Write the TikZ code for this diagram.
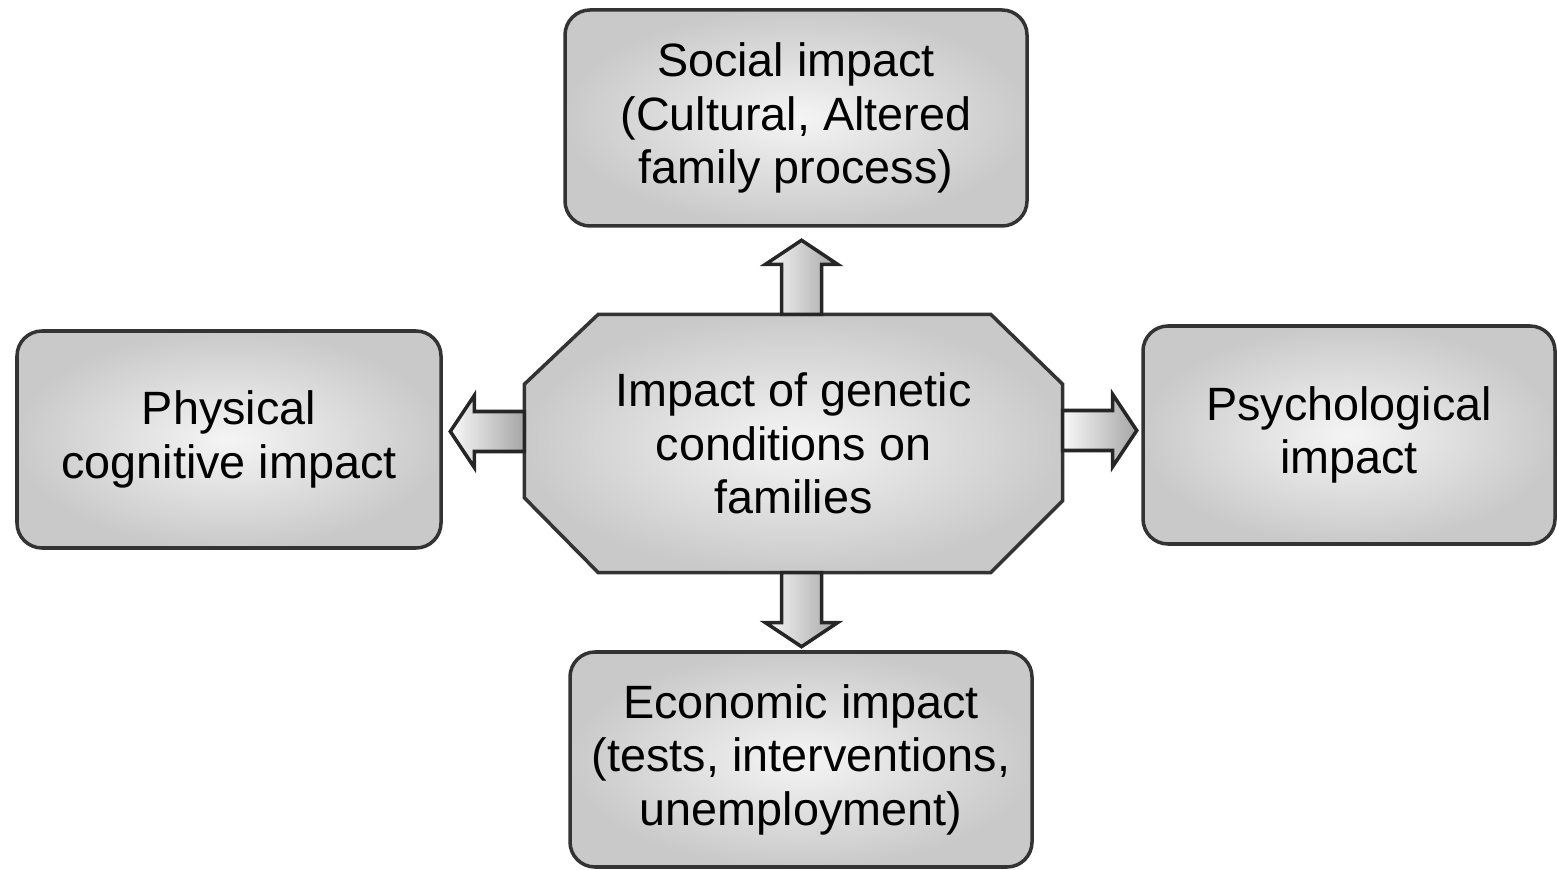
\documentclass[tikz,border=0pt]{standalone}
\usepackage{fontspec}
\setmainfont{Liberation Sans}
\usetikzlibrary{calc,backgrounds}

% block arrow leaving an anchor: #1 anchor, #2 direction, #3 normal
\newcommand{\fatarrow}[3]{%
  \draw[fatarrow] ($(#1)+0.2*(#3)$) -- ($(#1)+0.2*(#3)+0.5*(#2)$)
    -- ($(#1)+0.36*(#3)+0.5*(#2)$) -- ($(#1)+0.74*(#2)$)
    -- ($(#1)-0.36*(#3)+0.5*(#2)$) -- ($(#1)-0.2*(#3)+0.5*(#2)$)
    -- ($(#1)-0.2*(#3)$) -- cycle;}

\begin{document}
\begin{tikzpicture}[
  label text/.style={align=center, font=\fontsize{13.3}{15.2}\selectfont},
  box/.style={label text, draw=black!80, line width=1pt, rounded corners=0.25cm,
    inner color=gray!8, outer color=gray!42},
  hub/.style={draw=black!80, line width=1pt, line join=miter,
    inner color=gray!8, outer color=gray!42},
  fatarrow/.style={draw=black!85, line width=1pt, line join=miter,
    left color=gray!5, right color=gray!70}
]
\useasboundingbox (0,0) rectangle (15.57,8.69);

\node[label text, minimum width=5.37cm, minimum height=2.57cm] (impact) at (7.935,4.255)
  {Impact of genetic\\conditions on\\families};
\node[box, minimum width=4.62cm, minimum height=2.16cm] (social) at (7.96,7.51)
  {Social impact\\(Cultural, Altered\\family process)};
\node[box, minimum width=4.24cm, minimum height=2.17cm] (physical) at (2.29,4.295)
  {Physical\\cognitive impact};
\node[box, minimum width=4.12cm, minimum height=2.18cm] (psycho) at (13.49,4.34)
  {Psychological\\impact};
\node[box, minimum width=4.62cm, minimum height=2.15cm] (economic) at (8.01,1.095)
  {Economic impact\\(tests, interventions,\\unemployment)};

% octagon behind the middle text
\begin{scope}[on background layer]
\draw[hub] ([xshift=0.74cm]impact.north west) -- ([xshift=-0.72cm]impact.north east)
  -- ([yshift=-0.7cm]impact.north east) -- ([yshift=0.72cm]impact.south east)
  -- ([xshift=-0.72cm]impact.south east) -- ([xshift=0.74cm]impact.south west)
  -- ([yshift=0.75cm]impact.south west) -- ([yshift=-0.7cm]impact.north west) -- cycle;
\end{scope}

% arrows out of the hub
\coordinate (up)    at ([xshift=0.08cm]impact.north);
\coordinate (down)  at ([xshift=0.08cm]impact.south);
\coordinate (left)  at ([yshift=0.12cm]impact.west);
\coordinate (right) at ([yshift=0.13cm]impact.east);
\fatarrow{up}{0,1}{1,0}
\fatarrow{down}{0,-1}{1,0}
\fatarrow{left}{-1,0}{0,1}
\fatarrow{right}{1,0}{0,1}
\end{tikzpicture}
\end{document}
